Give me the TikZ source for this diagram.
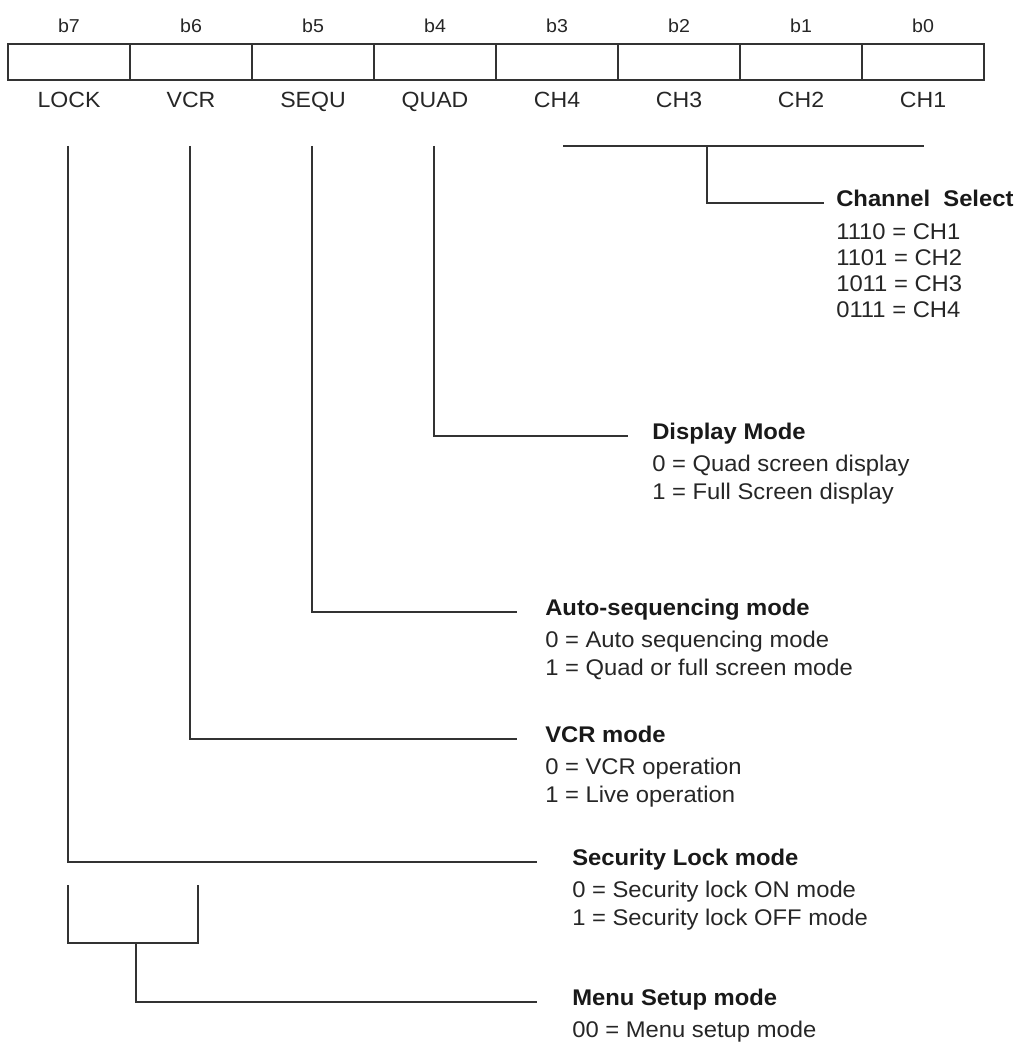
\documentclass[tikz,border=0pt]{standalone}
\usepackage{fontspec}
\setmainfont[FakeStretch=1.05]{Liberation Sans}
\usetikzlibrary{positioning,calc}

\begin{document}
\begin{tikzpicture}[
    x=0.75pt, y=-0.75pt,
    cell/.style={
        rectangle, draw=black!80, line width=1.5pt,
        minimum width=91.5pt, minimum height=27pt, inner sep=0pt
    },
    bitno/.style={font=\fontsize{14}{16}\selectfont, text=black!85, inner sep=0pt, anchor=base},
    bitname/.style={font=\fontsize{16.5}{19}\selectfont, text=black!85, inner sep=0pt, anchor=base},
    title/.style={
        font=\fontsize{17}{20}\selectfont\bfseries, text=black!90, inner sep=0pt,
        anchor=west, text height=0.75em, text depth=0.25em
    },
    vals/.style={
        font=\fontsize{17}{21}\selectfont, text=black!85, inner sep=0pt,
        align=left, below right=9pt and 0pt of #1.south west
    },
    link/.style={draw=black!80, line width=1.5pt},
]
\useasboundingbox (0,0) rectangle (1019,1048);

% Register cells
\foreach \i/\name in {7/LOCK,6/VCR,5/SEQU,4/QUAD,3/CH4,2/CH3,1/CH2,0/CH1}{
    \node[cell] (cell\i) at ({69+122*(7-\i)},62) {};
    \node[bitno] (b\i) at ({69+122*(7-\i)},33) {b\i};
    \node[bitname] (lbl\i) at ({69+122*(7-\i)},108) {\name};
}

% Tops of the bit lines
\coordinate (lockTop) at (68,146);
\coordinate (vcrTop) at (190,146);
\coordinate (sequTop) at (312,146);
\coordinate (quadTop) at (434,146);
\coordinate (chL) at (563,146);
\coordinate (chR) at (924,146);
\coordinate (chMid) at (707,146);
\coordinate (menuL) at (68,885);
\coordinate (menuR) at (198,885);
\coordinate (menuStem) at (136,943);

% Descriptions
\node[title] (chT) at (836,203) {Channel\ \ Select};
\node[vals=chT, font=\fontsize{17}{19.5}\selectfont, yshift=-1pt] (chV)
    {1110 = CH1\\1101 = CH2\\1011 = CH3\\0111 = CH4};

\node[title] (dispT) at (652,436) {Display Mode};
\node[vals=dispT] (dispV) {0 = Quad screen display\\1 = Full Screen display};

\node[title] (autoT) at (545,612) {Auto-sequencing mode};
\node[vals=autoT] (autoV) {0 = Auto sequencing mode\\1 = Quad or full screen mode};

\node[title] (vcrT) at (545,739) {VCR mode};
\node[vals=vcrT] (vcrV) {0 = VCR operation\\1 = Live operation};

\node[title] (secT) at (572,862) {Security Lock mode};
\node[vals=secT] (secV) {0 = Security lock ON mode\\1 = Security lock OFF mode};

\node[title] (menuT) at (572,1002) {Menu Setup mode};
\node[vals=menuT] (menuV) {00 = Menu setup mode};

% Connectors
\draw[link] (chL) -- (chR);
\draw[link, shorten >=9pt] (chMid) |- (chT.west);
\draw[link, shorten >=18pt] (quadTop) |- (dispT.west);
\draw[link, shorten >=21pt] (sequTop) |- (autoT.west);
\draw[link, shorten >=21pt] (vcrTop) |- (vcrT.west);
\draw[link, shorten >=26pt] (lockTop) |- (secT.west);
\draw[link] (menuL) -- ++(0,58) -| (menuR);
\draw[link, shorten >=26pt] (menuStem) |- (menuT.west);
\end{tikzpicture}
\end{document}
